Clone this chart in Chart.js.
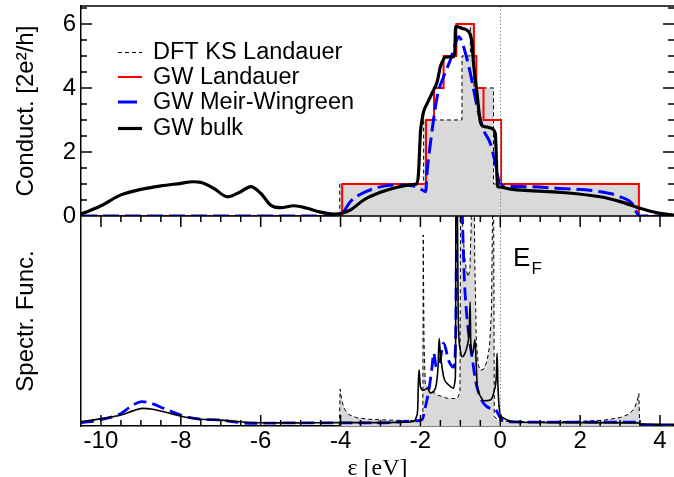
<!DOCTYPE html>
<html><head><meta charset="utf-8">
<script src="https://cdn.jsdelivr.net/npm/chart.js@4/dist/chart.umd.min.js"></script>
<style>html,body{margin:0;padding:0;background:#fff}#c{display:block}</style>
</head><body>
<canvas id="c" width="674" height="477"></canvas>
<script>
// ---------- axes / ticks ----------
const X_MIN = -10.5, X_MAX = 4.35;
const xTicks = [-10, -8, -6, -4, -2, 0, 2, 4];
const condTicks = [0, 2, 4, 6];
const COND_MAX = 6.56;
const SPEC_MAX = 100;
const EF = 0;

// ---------- top panel: conductance ----------
const dftStepX = [-10.5, -4.02, -1.92, -0.96, -0.75, -0.66, -0.17, 3.47, 4.35];
const dftCond  = [0, 1, 3, 5, 6, 4, 1, 0, 0];

const gwLandX  = [-10.5, -3.96, -1.86, -1.66, -1.42, -1.1, -0.66, -0.6, -0.42, 0.02, 3.47, 4.35];
const gwLand   = [0, 1, 3, 4, 5, 6, 5, 4, 3, 1, 0, 0];

const mwX = [-10.5, -4.0, -3.96, -3.75, -3.5, -3.0, -2.58, -2.08, -1.87, -1.83, -1.75, -1.58, -1.42, -1.25, -1.12, -1.04, -0.92, -0.75, -0.58, -0.42, -0.25, -0.125, -0.04, 0.08, 0.5, 1.5, 2.5, 3.0, 3.33, 3.42, 3.47, 4.35];
const mwCond = [0, 0, 0.06, 0.45, 0.68, 0.91, 0.97, 0.91, 0.76, 1.42, 2.27, 3.73, 4.35, 4.88, 5.4, 5.6, 5.29, 4.46, 3.42, 2.69, 2.27, 1.65, 1.13, 0.94, 0.92, 0.86, 0.76, 0.6, 0.34, 0.1, 0, 0];

const bulkX = [-10.5, -10, -9.5, -9, -8.5, -8, -7.7, -7.5, -7.17, -6.83, -6.5, -6.25, -6, -5.75, -5.5, -5.17, -4.83, -4.5, -4.17, -3.92, -3.75, -3.42, -3, -2.58, -2.2, -2.1, -2.05, -2.0, -1.96, -1.92, -1.83, -1.71, -1.58, -1.5, -1.42, -1.38, -1.17, -1.14, -1.12, -0.95, -0.83, -0.75, -0.71, -0.67, -0.58, -0.5, -0.42, -0.33, -0.25, -0.125, -0.07, 0, 0.25, 0.75, 1.5, 2.5, 3, 3.5, 4, 4.35];
const bulkCond = [0.06, 0.32, 0.66, 0.83, 0.94, 1.02, 1.07, 1.05, 0.86, 0.60, 0.76, 0.92, 0.71, 0.34, 0.26, 0.32, 0.24, 0.12, 0.06, 0.10, 0.19, 0.5, 0.74, 0.9, 0.98, 1.0, 1.3, 2.6, 3.0, 3.26, 3.52, 3.83, 4.2, 4.67, 4.9, 4.96, 4.98, 5.1, 5.92, 5.86, 5.8, 5.66, 5.4, 4.77, 3.8, 2.95, 2.8, 2.78, 2.75, 2.58, 0.92, 0.9, 0.84, 0.79, 0.74, 0.6, 0.45, 0.24, 0.08, 0.03];

// ---------- bottom panel: spectral function ----------
const dftSpecX = [-10.5, -4.03, -4.01, -3.97, -3.9, -3.8, -3.6, -3.3, -2.8, -2.2, -1.94, -1.93, -1.91, -1.88, -1.83, -1.75, -1.58, -1.33, -1.08, -1.01, -0.99, -0.94, -0.9, -0.85, -0.8, -0.76, -0.73, -0.71, -0.66, -0.64, -0.6, -0.55, -0.5, -0.42, -0.33, -0.27, -0.22, -0.19, -0.17, -0.15, -0.05, 0.05, 1, 2, 2.6, 3.0, 3.2, 3.35, 3.43, 3.47, 3.49, 3.55, 4.35];
const dftSpec  = [0, 0, 17.6, 12, 8, 5.5, 4, 3.2, 2.8, 2.6, 2.8, 91, 40, 20, 18.7, 17, 14.8, 13.2, 13, 16, 130, 95, 82, 74, 71, 75, 95, 130, 130, 80, 40, 29, 26.5, 27, 31, 38, 55, 110, 130, 4.4, 3, 2.2, 2.0, 2.2, 2.8, 4, 5.5, 8, 12, 15.5, 0, 0, 0];

const gwSpecX = [-10.5, -10, -9.5, -9.2, -8.97, -8.7, -8.43, -7.94, -7.5, -7.06, -6.27, -5.1, -4, -3, -2.4, -2.16, -2.1, -2.07, -2.04, -2.03, -2.0, -1.92, -1.83, -1.75, -1.625, -1.56, -1.53, -1.5, -1.48, -1.42, -1.29, -1.17, -1.13, -1.12, -1.11, -1.09, -1.05, -1.0, -0.96, -0.9, -0.83, -0.78, -0.755, -0.74, -0.7, -0.66, -0.635, -0.6, -0.58, -0.54, -0.46, -0.42, -0.25, -0.15, -0.1, -0.08, -0.06, -0.02, 0.08, 0.5, 2, 3.45, 3.5, 4.35];
const gwSpec  = [2.0, 3.5, 5.2, 7.2, 8.4, 8.0, 6.8, 4.4, 3.2, 2.9, 1.7, 1.5, 1.6, 1.6, 1.8, 2.3, 4.4, 7.6, 26.7, 26, 18.7, 17, 18, 15.7, 18, 28, 41.7, 34, 31, 23.5, 19.5, 18, 22, 30, 130, 130, 50, 36, 33, 34, 38, 45, 59, 40, 34, 38, 41, 28, 20, 16, 13, 12, 12.4, 17, 23.5, 34.6, 20, 7.6, 3.8, 1.8, 1.6, 1.5, 1.0, 0.8];

const mwSpecX = [-10.5, -10, -9.5, -9.2, -8.97, -8.7, -8.43, -7.94, -7.5, -7.06, -6.27, -5, -4, -3, -2.08, -1.96, -1.875, -1.79, -1.71, -1.67, -1.6, -1.52, -1.42, -1.29, -1.17, -1.12, -1.1, -1.08, -1.0, -0.95, -0.9, -0.85, -0.8, -0.75, -0.7, -0.625, -0.54, -0.42, -0.25, -0.125, -0.04, 0.04, 0.2, 2, 3.4, 3.5, 4.35];
const mwSpec  = [1.5, 3, 6, 10, 11.6, 10.5, 8.4, 4.8, 3.2, 2.9, 1.3, 1.5, 1.5, 1.5, 2.5, 3.0, 9.2, 17, 28, 34.8, 28, 30, 39.4, 31, 28, 40, 80, 130, 130, 100, 70, 55, 45, 38, 32, 22, 15.6, 10.8, 8.4, 8, 5.2, 2.9, 2.0, 1.8, 1.8, 0.3, 0.3];

// legend
const legendLabels = ['DFT KS Landauer', 'GW Landauer', 'GW Meir-Wingreen', 'GW bulk'];

const FONT = "'Liberation Sans', Arial, Helvetica, sans-serif";
const pts = (xs, ys) => xs.map((x, i) => ({x, y: ys[i]}));

const framePlugin = {
  id: 'frame',
  afterDatasetsDraw(chart) {
    const {ctx, chartArea: a, scales} = chart;
    const x = scales.x, yC = scales.yCond, yS = scales.ySpec;
    const mid = yC.bottom;
    ctx.save();
    // Fermi level dotted line
    const ex = Math.round(x.getPixelForValue(EF)) + 0.5;
    ctx.strokeStyle = '#8a8a8a'; ctx.lineWidth = 1; ctx.setLineDash([1.5, 2]);
    ctx.beginPath(); ctx.moveTo(ex, a.top); ctx.lineTo(ex, a.bottom); ctx.stroke();
    ctx.setLineDash([]);
    // frame lines
    ctx.strokeStyle = '#000'; ctx.lineWidth = 1.5;
    ctx.beginPath();
    ctx.moveTo(a.left, a.top); ctx.lineTo(a.right, a.top);
    ctx.moveTo(a.left, mid); ctx.lineTo(a.right, mid);
    // x ticks
    for (let k = 0; ; k++) {
      const v = -10 + 0.5 * k;
      if (v > X_MAX) break;
      const px = x.getPixelForValue(v);
      const L = (Math.abs(v % 2) < 1e-6) ? 11 : 6;
      ctx.moveTo(px, mid); ctx.lineTo(px, mid + L);
      ctx.moveTo(px, a.bottom); ctx.lineTo(px, a.bottom - L);
    }
    // y ticks (conductance) left and right
    for (let k = 0; ; k++) {
      const v = 0.5 * k;
      if (v > COND_MAX) break;
      const py = yC.getPixelForValue(v);
      const L = (Math.abs(v % 2) < 1e-6) ? 11 : 6;
      ctx.moveTo(a.left, py); ctx.lineTo(a.left + L, py);
      ctx.moveTo(a.right, py); ctx.lineTo(a.right - L, py);
    }
    ctx.stroke();
    // E_F label
    ctx.fillStyle = '#000';
    ctx.textBaseline = 'alphabetic';
    ctx.font = "26px " + FONT;
    const lx = x.getPixelForValue(0.32), ly = yS.getPixelForValue(76);
    ctx.fillText('E', lx, ly);
    const ew = ctx.measureText('E').width;
    ctx.font = "17px " + FONT;
    ctx.fillText('F', lx + ew + 1, ly + 8);
    // legend
    const rows = [52.5, 77, 102, 128.5];
    const styles = [
      {c: '#000', w: 1, d: [4, 3], x2: 142},
      {c: '#ff0000', w: 2, d: [], x2: 142},
      {c: '#0000ff', w: 3, d: [], x2: 137},
      {c: '#000', w: 3.2, d: [], x2: 142}
    ];
    ctx.font = "23.5px " + FONT;
    ctx.textBaseline = 'middle';
    rows.forEach((ry, i) => {
      const s = styles[i];
      ctx.strokeStyle = s.c; ctx.lineWidth = s.w; ctx.setLineDash(s.d);
      ctx.beginPath(); ctx.moveTo(118, ry); ctx.lineTo(s.x2, ry); ctx.stroke();
      ctx.setLineDash([]);
      ctx.fillText(legendLabels[i], 153, ry + 0.5);
    });
    ctx.restore();
  }
};

new Chart(document.getElementById('c'), {
  type: 'line',
  data: {
    datasets: [
      // top panel
      {data: pts(bulkX, bulkCond), yAxisID: 'yCond', borderColor: '#000', borderWidth: 3.2, cubicInterpolationMode: 'monotone', fill: false},
      {data: pts(mwX, mwCond), yAxisID: 'yCond', borderColor: '#0000ff', borderWidth: 3, borderDash: [16, 6], cubicInterpolationMode: 'monotone', fill: false},
      {data: pts(gwLandX, gwLand), yAxisID: 'yCond', borderColor: '#ff0000', borderWidth: 2, stepped: 'before', fill: false},
      {data: pts(dftStepX, dftCond), yAxisID: 'yCond', borderColor: '#000', borderWidth: 1, borderDash: [4, 3], stepped: 'before', fill: 'origin', backgroundColor: '#d9d9d9'},
      // bottom panel
      {data: pts(gwSpecX, gwSpec), yAxisID: 'ySpec', borderColor: '#000', borderWidth: 1.6, cubicInterpolationMode: 'monotone', fill: false},
      {data: pts(mwSpecX, mwSpec), yAxisID: 'ySpec', borderColor: '#0000ff', borderWidth: 2.8, borderDash: [13, 6], cubicInterpolationMode: 'monotone', fill: false},
      {data: pts(dftSpecX, dftSpec), yAxisID: 'ySpec', borderColor: '#000', borderWidth: 1, borderDash: [4, 3], tension: 0, fill: 'origin', backgroundColor: '#d9d9d9'}
    ]
  },
  options: {
    responsive: false, animation: false, devicePixelRatio: 1,
    layout: {padding: {top: 6, right: 0, left: 0, bottom: 0}},
    plugins: {legend: {display: false}, tooltip: {enabled: false}},
    elements: {point: {radius: 0}},
    scales: {
      x: {
        type: 'linear', min: X_MIN, max: X_MAX, position: 'bottom',
        grid: {display: false, drawTicks: false},
        border: {display: true, color: '#000', width: 1.5},
        ticks: {font: {family: FONT, size: 24}, color: '#000', padding: 1, maxRotation: 0, autoSkip: false, callback: v => String(v)},
        afterBuildTicks: s => { s.ticks = xTicks.map(v => ({value: v})); },
        afterFit: s => { s.height = 51; s.paddingLeft = 0; s.paddingRight = 0; },
        title: {display: true, text: 'ε [eV]', font: {family: "'Liberation Serif', 'Times New Roman', serif", size: 24}, color: '#000', padding: {top: 0, bottom: -6}}
      },
      ySpec: {
        type: 'linear', position: 'left', stack: 'panels', stackWeight: 1, min: 0, max: SPEC_MAX,
        grid: {display: false, drawTicks: false},
        border: {display: true, color: '#000', width: 1.5},
        ticks: {display: false},
        afterFit: s => { s.width = 81; s.paddingTop = 0; s.paddingBottom = 0; },
        title: {display: true, text: 'Spectr. Func.', font: {family: FONT, size: 24}, color: '#000', padding: {top: 12, bottom: 0}}
      },
      yCond: {
        type: 'linear', position: 'left', stack: 'panels', stackWeight: 1, min: 0, max: COND_MAX,
        grid: {display: false, drawTicks: false},
        border: {display: true, color: '#000', width: 1.5},
        ticks: {font: {family: FONT, size: 24}, color: '#000', padding: 5, callback: v => String(v)},
        afterBuildTicks: s => { s.ticks = condTicks.map(v => ({value: v})); },
        afterFit: s => { s.width = 81; s.paddingTop = 0; s.paddingBottom = 0; },
        title: {display: true, text: 'Conduct. [2e²/h]', font: {family: FONT, size: 24}, color: '#000', padding: {top: 12, bottom: 0}}
      }
    }
  },
  plugins: [framePlugin]
});
</script>
</body></html>
